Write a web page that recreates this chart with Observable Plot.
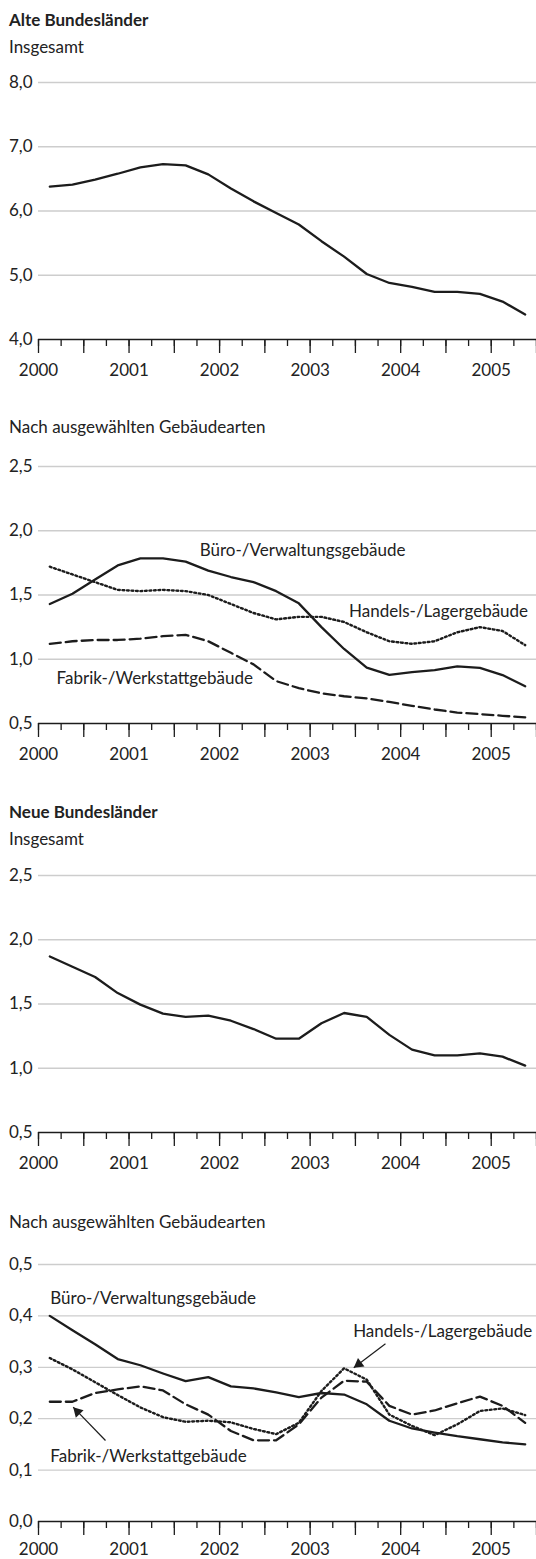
<!DOCTYPE html>
<html><head><meta charset="utf-8">
<script src="https://cdn.jsdelivr.net/npm/d3@7"></script>
<script src="https://cdn.jsdelivr.net/npm/@observablehq/plot@0.6"></script>
<style>
html,body{margin:0;padding:0;background:#fff;}
#root{position:relative;width:536px;height:1559px;overflow:hidden;font-family:Lato,sans-serif;color:#222;}
.t{position:absolute;left:9px;font-size:17px;line-height:17px;white-space:nowrap;}
.b{font-weight:bold;}
.p{position:absolute;left:0;}
</style></head><body><div id="root"></div>
<script>
// ---- data ----
const periods = ["2000-Q1","2000-Q2","2000-Q3","2000-Q4","2001-Q1","2001-Q2","2001-Q3","2001-Q4",
  "2002-Q1","2002-Q2","2002-Q3","2002-Q4","2003-Q1","2003-Q2","2003-Q3","2003-Q4",
  "2004-Q1","2004-Q2","2004-Q3","2004-Q4","2005-Q1","2005-Q2"];
const years = [2000, 2001, 2002, 2003, 2004, 2005];

const alteInsgesamt = [6.38,6.41,6.49,6.58,6.68,6.73,6.71,6.57,6.35,6.15,5.97,5.79,5.53,5.29,5.02,4.88,4.82,4.74,4.74,4.71,4.59,4.39];
const alteBuero = [1.43,1.51,1.62,1.73,1.785,1.785,1.76,1.69,1.64,1.60,1.53,1.435,1.25,1.08,0.935,0.878,0.90,0.915,0.945,0.933,0.877,0.79];
const alteHandel = [1.72,1.66,1.60,1.54,1.53,1.54,1.53,1.50,1.43,1.36,1.31,1.33,1.33,1.29,1.21,1.14,1.12,1.14,1.21,1.25,1.22,1.11];
const alteFabrik = [1.12,1.14,1.15,1.15,1.16,1.18,1.19,1.14,1.05,0.96,0.83,0.775,0.735,0.712,0.695,0.668,0.637,0.609,0.585,0.573,0.56,0.548];

const neueInsgesamt = [1.87,1.79,1.71,1.585,1.495,1.425,1.40,1.41,1.37,1.305,1.23,1.23,1.35,1.43,1.40,1.26,1.145,1.10,1.10,1.115,1.09,1.02];
const neueBuero = [0.400,0.372,0.345,0.316,0.304,0.288,0.273,0.281,0.263,0.259,0.251,0.242,0.250,0.247,0.228,0.196,0.181,0.173,0.166,0.160,0.154,0.150];
const neueHandel = [0.318,0.296,0.271,0.246,0.222,0.203,0.194,0.196,0.193,0.180,0.170,0.192,0.254,0.298,0.276,0.208,0.186,0.168,0.189,0.215,0.220,0.207];
const neueFabrik = [0.233,0.233,0.250,0.257,0.263,0.255,0.228,0.208,0.176,0.158,0.158,0.189,0.241,0.274,0.272,0.225,0.208,0.216,0.230,0.243,0.225,0.192];

const ticksAlteInsg = [4, 5, 6, 7, 8];
const ticksAlteArt = [0.5, 1.0, 1.5, 2.0, 2.5];
const ticksNeueInsg = [0.5, 1.0, 1.5, 2.0, 2.5];
const ticksNeueArt = [0.0, 0.1, 0.2, 0.3, 0.4, 0.5];

const labelBuero = "Büro-/Verwaltungsgebäude";
const labelHandel = "Handels-/Lagergebäude";
const labelFabrik = "Fabrik-/Werkstattgebäude";

// ---- helpers ----
const qPos = p => +p.slice(0, 4) + (+p.slice(6) - 0.5) / 4;
const toRows = vals => periods.map((p, i) => ({x: qPos(p), y: vals[i]}));
const quarterTicks = d3.range(0, 23).map(i => 2000 + i / 4);
const halfTicks = d3.range(0, 12).map(i => 2000 + i / 2);
const INK = "#1c1c1c";
const W = 536, ML = 38, MR = 0, MT = 10, MB = 40, PH = 257;
const XD = [2000, 2005.5];
const styles = {
  solid: {},
  dotted: {strokeDasharray: "1.8,2.7", strokeWidth: 2.4},
  dashed: {strokeDasharray: "11,5"}
};

function panel({top, yTicks, series, labels = [], arrows = [], yearPad = 24, mb = MB}) {
  const yDomain = [yTicks[0], yTicks[yTicks.length - 1]];
  const kx = (W - ML - MR) / (XD[1] - XD[0]);
  const ky = PH / (yDomain[1] - yDomain[0]);
  const marks = [
    Plot.gridY(yTicks.slice(1), {stroke: "#cdcdcd", strokeOpacity: 1, strokeWidth: 1.3}),
    Plot.axisY({ticks: yTicks, tickSize: 0, tickPadding: 6, fontSize: 17, fill: "#222",
      tickFormat: d => d.toFixed(1).replace(".", ","), label: null}),
    Plot.ruleY([yDomain[0]], {stroke: INK, strokeWidth: 1.4}),
    Plot.axisX({ticks: quarterTicks, tickSize: 7, tickFormat: () => "", stroke: INK, strokeWidth: 1.3, label: null}),
    Plot.axisX({ticks: halfTicks, tickSize: 14, tickFormat: () => "", stroke: INK, strokeWidth: 1.3, label: null}),
    Plot.axisX({ticks: years, tickSize: 0, tickPadding: yearPad, fontSize: 17, fill: "#222", tickFormat: d => String(d), label: null})
  ];
  for (const s of series) {
    marks.push(Plot.line(toRows(s.values), {x: "x", y: "y", stroke: INK, strokeWidth: 2.3,
      strokeLinejoin: "round", ...styles[s.style]}));
  }
  for (const l of labels) {
    marks.push(Plot.text([l], {x: "x", y: "y", text: "text", textAnchor: "start", lineAnchor: "bottom",
      fontSize: 17, fill: "#222"}));
  }
  for (const a of arrows) {
    const dxp = (a.x2 - a.x1) * kx, dyp = -(a.y2 - a.y1) * ky;
    const th = Math.atan2(dxp, -dyp);
    const r = 4, tip = 2 * Math.sqrt(r * r * Math.PI / (3 * Math.sqrt(3)));
    marks.push(Plot.link([a], {x1: "x1", y1: "y1", x2: "x2", y2: "y2", stroke: INK, strokeWidth: 1.2}));
    marks.push(Plot.dot([a], {x: "x2", y: "y2", symbol: "triangle", r, fill: INK, stroke: "none",
      rotate: th * 180 / Math.PI, dx: -tip * Math.sin(th), dy: tip * Math.cos(th)}));
  }
  const svg = Plot.plot({
    width: W, height: MT + PH + mb, marginTop: MT, marginBottom: mb, marginLeft: ML, marginRight: MR,
    style: {fontFamily: "Lato, sans-serif", fontSize: "17px", color: "#222", background: "transparent", overflow: "visible"},
    x: {type: "linear", domain: XD},
    y: {type: "linear", domain: yDomain},
    marks
  });
  svg.classList.add("p");
  svg.style.top = (top - MT) + "px";
  return svg;
}

function heading(text, baseline, bold) {
  const d = document.createElement("div");
  d.className = "t" + (bold ? " b" : "");
  d.textContent = text;
  d.style.top = (baseline - 15.1) + "px";
  return d;
}

const root = document.getElementById("root");
root.append(heading("Alte Bundesländer", 26, true));
root.append(heading("Insgesamt", 53, false));
root.append(panel({top: 82, yTicks: ticksAlteInsg, series: [{values: alteInsgesamt, style: "solid"}]}));

root.append(heading("Nach ausgewählten Gebäudearten", 433, false));
root.append(panel({top: 466, yTicks: ticksAlteArt,
  series: [{values: alteFabrik, style: "dashed"}, {values: alteHandel, style: "dotted"}, {values: alteBuero, style: "solid"}],
  labels: [
    {text: labelBuero, x: 2001.78, y: 1.80},
    {text: labelHandel, x: 2003.43, y: 1.327},
    {text: labelFabrik, x: 2000.20, y: 0.811}
  ]}));

root.append(heading("Neue Bundesländer", 818, true));
root.append(heading("Insgesamt", 845, false));
root.append(panel({top: 875, yTicks: ticksNeueInsg, series: [{values: neueInsgesamt, style: "solid"}]}));

root.append(heading("Nach ausgewählten Gebäudearten", 1228, false));
root.append(panel({top: 1264, yTicks: ticksNeueArt, yearPad: 21, mb: 34,
  series: [{values: neueFabrik, style: "dashed"}, {values: neueHandel, style: "dotted"}, {values: neueBuero, style: "solid"}],
  labels: [
    {text: labelBuero, x: 2000.13, y: 0.4235},
    {text: labelHandel, x: 2003.475, y: 0.3586},
    {text: labelFabrik, x: 2000.13, y: 0.1154}
  ],
  arrows: [
    {x1: 2003.832, y1: 0.3457, x2: 2003.482, y2: 0.299},
    {x1: 2000.74, y1: 0.1576, x2: 2000.383, y2: 0.2224}
  ]}));
</script></body></html>
